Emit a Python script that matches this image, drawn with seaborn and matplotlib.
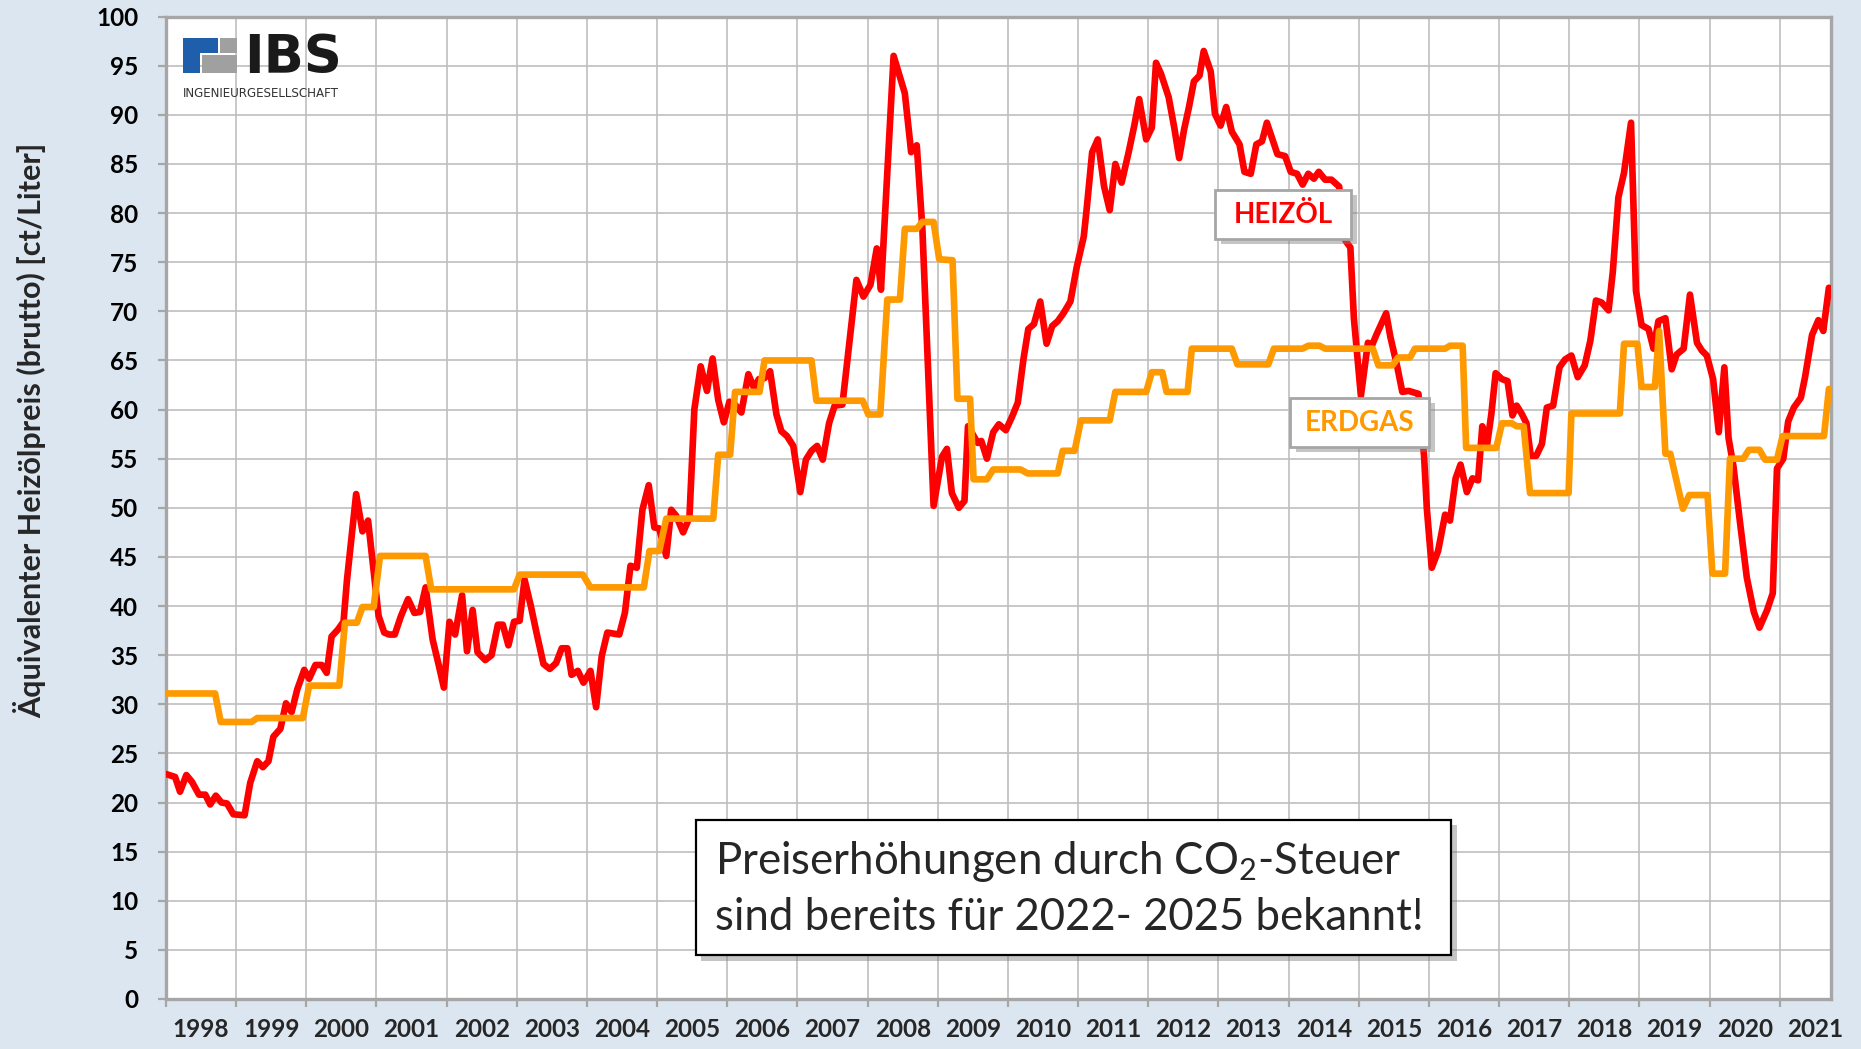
import matplotlib
matplotlib.use('Agg')
import matplotlib.pyplot as plt
import matplotlib.patheffects as pe
from matplotlib.patches import Rectangle
import seaborn as sns

# ------------------------
# Data (decimal year / ct per litre)
# ------------------------

heizoel_jahr = [
    1998.00, 1998.13, 1998.20, 1998.29, 1998.37, 1998.47, 1998.56, 1998.63, 1998.71, 1998.79,
    1998.87, 1998.96, 1999.12, 1999.20, 1999.30, 1999.38, 1999.46, 1999.53, 1999.63, 1999.71,
    1999.79, 1999.87, 1999.97, 2000.04, 2000.13, 2000.22, 2000.29, 2000.36, 2000.45, 2000.53,
    2000.58, 2000.71, 2000.80, 2000.88, 2001.03, 2001.11, 2001.18, 2001.26, 2001.35, 2001.45,
    2001.54, 2001.62, 2001.70, 2001.80, 2001.89, 2001.96, 2002.04, 2002.12, 2002.22, 2002.29,
    2002.37, 2002.44, 2002.55, 2002.64, 2002.73, 2002.80, 2002.88, 2002.96, 2003.04, 2003.11,
    2003.20, 2003.28, 2003.38, 2003.47, 2003.56, 2003.64, 2003.72, 2003.78, 2003.87, 2003.95,
    2004.05, 2004.13, 2004.21, 2004.29, 2004.46, 2004.54, 2004.62, 2004.71, 2004.79, 2004.88,
    2004.96, 2005.03, 2005.13, 2005.20, 2005.27, 2005.37, 2005.46, 2005.53, 2005.62, 2005.71,
    2005.79, 2005.87, 2005.95, 2006.03, 2006.11, 2006.20, 2006.30, 2006.38, 2006.45, 2006.53,
    2006.61, 2006.70, 2006.77, 2006.85, 2006.94, 2007.04, 2007.12, 2007.20, 2007.28, 2007.36,
    2007.45, 2007.53, 2007.64, 2007.76, 2007.84, 2007.94, 2008.04, 2008.13, 2008.19, 2008.37,
    2008.53, 2008.62, 2008.70, 2008.78, 2008.94, 2009.06, 2009.13, 2009.20, 2009.30, 2009.38,
    2009.43, 2009.57, 2009.62, 2009.70, 2009.79, 2009.87, 2009.97, 2010.06, 2010.14, 2010.22,
    2010.29, 2010.37, 2010.46, 2010.55, 2010.63, 2010.71, 2010.79, 2010.89, 2010.98, 2011.08,
    2011.12, 2011.20, 2011.28, 2011.37, 2011.45, 2011.53, 2011.62, 2011.72, 2011.80, 2011.87,
    2011.97, 2012.05, 2012.11, 2012.18, 2012.29, 2012.37, 2012.44, 2012.51, 2012.58, 2012.65,
    2012.73, 2012.79, 2012.89, 2012.95, 2013.03, 2013.11, 2013.19, 2013.30, 2013.37, 2013.46,
    2013.54, 2013.62, 2013.69, 2013.76, 2013.84, 2013.95, 2014.03, 2014.12, 2014.20, 2014.28,
    2014.36, 2014.43, 2014.52, 2014.61, 2014.72, 2014.81, 2014.88, 2014.93, 2015.03, 2015.13,
    2015.18, 2015.25, 2015.39, 2015.45, 2015.55, 2015.62, 2015.71, 2015.85, 2015.93, 2015.97,
    2016.04, 2016.13, 2016.23, 2016.30, 2016.38, 2016.45, 2016.54, 2016.62, 2016.70, 2016.76,
    2016.83, 2016.89, 2016.95, 2017.04, 2017.12, 2017.19, 2017.25, 2017.32, 2017.39, 2017.45,
    2017.53, 2017.61, 2017.68, 2017.77, 2017.86, 2017.94, 2018.03, 2018.12, 2018.22, 2018.30,
    2018.38, 2018.46, 2018.56, 2018.62, 2018.70, 2018.78, 2018.88, 2018.95, 2019.03, 2019.13,
    2019.20, 2019.27, 2019.37, 2019.46, 2019.53, 2019.63, 2019.72, 2019.82, 2019.89, 2019.96,
    2020.05, 2020.13, 2020.21, 2020.27, 2020.34, 2020.43, 2020.53, 2020.63, 2020.71, 2020.82,
    2020.90, 2020.96, 2021.05, 2021.12, 2021.20, 2021.30, 2021.36, 2021.46, 2021.55, 2021.62,
    2021.70,
]
heizoel_preis = [
    22.9, 22.6, 21.1, 22.8, 22.1, 20.8, 20.8, 19.8, 20.7, 20.0,
    19.9, 18.8, 18.7, 22.0, 24.2, 23.6, 24.2, 26.7, 27.5, 30.1,
    29.2, 31.5, 33.5, 32.6, 34.0, 34.0, 33.2, 36.9, 37.6, 38.4,
    42.7, 51.4, 47.6, 48.7, 39.0, 37.3, 37.1, 37.1, 39.0, 40.7,
    39.3, 39.4, 41.9, 36.6, 33.9, 31.7, 38.4, 37.1, 41.1, 35.4,
    39.6, 35.3, 34.5, 35.0, 38.1, 38.1, 36.0, 38.4, 38.5, 42.7,
    40.0, 37.3, 34.1, 33.6, 34.2, 35.7, 35.7, 33.0, 33.4, 32.2,
    33.4, 29.7, 34.9, 37.3, 37.1, 39.3, 44.1, 43.9, 49.8, 52.3,
    48.0, 47.9, 45.1, 49.8, 49.2, 47.5, 49.0, 60.0, 64.4, 61.9,
    65.2, 61.0, 58.7, 60.8, 60.5, 59.7, 63.6, 62.2, 63.1, 63.2,
    63.9, 59.5, 57.8, 57.3, 56.3, 51.6, 54.9, 55.8, 56.3, 54.9,
    58.6, 60.4, 60.5, 68.1, 73.2, 71.5, 72.7, 76.4, 72.2, 96.0,
    92.2, 86.2, 86.9, 78.4, 50.2, 55.2, 56.0, 51.5, 50.0, 50.7,
    58.3, 56.6, 56.8, 55.0, 57.7, 58.5, 57.9, 59.3, 60.7, 65.1,
    68.2, 68.7, 71.0, 66.7, 68.5, 69.0, 69.8, 71.0, 74.5, 77.6,
    80.3, 86.2, 87.5, 82.7, 80.3, 85.0, 83.1, 86.2, 88.9, 91.6,
    87.5, 88.7, 95.3, 94.2, 91.8, 88.7, 85.6, 88.5, 90.8, 93.4,
    94.0, 96.5, 94.4, 90.1, 88.9, 90.8, 88.3, 87.0, 84.2, 84.0,
    87.0, 87.3, 89.2, 87.7, 86.0, 85.8, 84.2, 84.0, 82.9, 84.0,
    83.5, 84.2, 83.4, 83.4, 82.7, 77.2, 76.5, 69.3, 61.4, 66.8,
    66.4, 67.6, 69.8, 67.4, 64.3, 61.8, 61.9, 61.6, 55.3, 49.9,
    43.9, 45.6, 49.3, 48.7, 53.0, 54.4, 51.6, 53.0, 52.8, 58.3,
    56.5, 59.6, 63.7, 63.1, 62.9, 59.4, 60.4, 59.6, 58.6, 55.3,
    55.3, 56.5, 60.2, 60.4, 64.3, 65.1, 65.5, 63.3, 64.5, 67.0,
    71.1, 70.9, 70.1, 74.0, 81.6, 84.1, 89.2, 72.1, 68.6, 68.2,
    66.2, 69.0, 69.3, 64.1, 65.6, 66.2, 71.7, 66.8, 66.0, 65.5,
    63.1, 57.7, 64.3, 57.1, 54.2, 48.7, 42.9, 39.4, 37.8, 39.6,
    41.3, 54.0, 55.0, 58.8, 60.2, 61.2, 63.3, 67.6, 69.1, 68.0,
    72.4,
]

erdgas_jahr = [
    1998.00, 1998.70, 1998.78, 1999.22, 1999.30, 1999.95, 2000.04, 2000.47, 2000.55, 2000.72,
    2000.80, 2000.96, 2001.05, 2001.70, 2001.78, 2002.96, 2003.04, 2003.94, 2004.05, 2004.81,
    2004.89, 2005.03, 2005.13, 2005.80, 2005.87, 2006.04, 2006.11, 2006.46, 2006.53, 2007.20,
    2007.27, 2007.93, 2008.01, 2008.18, 2008.28, 2008.46, 2008.53, 2008.70, 2008.78, 2008.94,
    2009.02, 2009.21, 2009.28, 2009.46, 2009.51, 2009.70, 2009.79, 2010.18, 2010.28, 2010.71,
    2010.78, 2010.95, 2011.04, 2011.45, 2011.53, 2011.97, 2012.05, 2012.20, 2012.26, 2012.56,
    2012.62, 2013.19, 2013.27, 2013.71, 2013.79, 2014.20, 2014.28, 2014.44, 2014.52, 2015.20,
    2015.28, 2015.48, 2015.56, 2015.73, 2015.80, 2016.23, 2016.30, 2016.48, 2016.53, 2016.96,
    2017.04, 2017.18, 2017.25, 2017.35, 2017.44, 2017.99, 2018.03, 2018.72, 2018.78, 2018.97,
    2019.03, 2019.22, 2019.28, 2019.37, 2019.44, 2019.62, 2019.71, 2019.97, 2020.04, 2020.22,
    2020.29, 2020.48, 2020.56, 2020.71, 2020.79, 2020.96, 2021.04, 2021.63, 2021.70,
]
erdgas_preis = [
    31.1, 31.1, 28.2, 28.2, 28.6, 28.6, 31.9, 31.9, 38.3, 38.3,
    39.9, 39.9, 45.1, 45.1, 41.7, 41.7, 43.2, 43.2, 41.9, 41.9,
    45.6, 45.6, 48.9, 48.9, 55.4, 55.4, 61.8, 61.8, 65.0, 65.0,
    60.9, 60.9, 59.5, 59.5, 71.2, 71.2, 78.4, 78.4, 79.1, 79.1,
    75.3, 75.2, 61.1, 61.1, 52.9, 52.9, 53.9, 53.9, 53.5, 53.5,
    55.8, 55.8, 58.9, 58.9, 61.8, 61.8, 63.8, 63.8, 61.8, 61.8,
    66.2, 66.2, 64.6, 64.6, 66.2, 66.2, 66.5, 66.5, 66.2, 66.2,
    64.5, 64.5, 65.3, 65.3, 66.2, 66.2, 66.5, 66.5, 56.1, 56.1,
    58.6, 58.6, 58.3, 58.3, 51.5, 51.5, 59.6, 59.6, 66.7, 66.7,
    62.3, 62.3, 68.0, 55.5, 55.5, 49.9, 51.3, 51.3, 43.3, 43.3,
    55.0, 55.0, 55.9, 55.9, 54.9, 54.9, 57.3, 57.3, 62.1,
]

jahre = list(range(1998, 2022))
y_ticks = list(range(0, 101, 5))

# ------------------------
# Style
# ------------------------

BG = '#DCE6F1'
GRID = '#BFBFBF'
SPINE = '#A6A6A6'
ROT = '#FF0000'
ORANGE = '#FF9900'

sns.set_theme(style='white')
plt.rcParams['font.family'] = ['Lato', 'DejaVu Sans']
plt.rcParams['mathtext.fontset'] = 'custom'
plt.rcParams['mathtext.rm'] = 'Lato'
plt.rcParams['mathtext.it'] = 'Lato'
plt.rcParams['mathtext.bf'] = 'Lato:bold'

W, H = 1861, 1049
fig = plt.figure(figsize=(W / 100, H / 100), dpi=100, facecolor=BG)
ax = fig.add_axes([166 / W, 1 - 999 / H, (1831 - 166) / W, (999 - 16.6) / H])
ax.set_facecolor('white')

# ------------------------
# Lines
# ------------------------

sns.lineplot(x=heizoel_jahr, y=heizoel_preis, ax=ax, color=ROT, lw=4.8,
             sort=False, estimator=None, zorder=3, solid_joinstyle='round')
sns.lineplot(x=erdgas_jahr, y=erdgas_preis, ax=ax, color=ORANGE, lw=4.8,
             sort=False, estimator=None, zorder=4, solid_joinstyle='round')

# ------------------------
# Axes
# ------------------------

ax.set_xlim(1998, 2021.73)
ax.set_ylim(0, 100)
ax.set_xticks(jahre)
ax.set_xticklabels([])
ax.set_xticks([j + 0.5 for j in jahre], minor=True)
ax.set_xticklabels([str(j) for j in jahre], minor=True)
ax.set_yticks(y_ticks)
ax.set_yticklabels([str(v) for v in y_ticks])

ax.grid(True, which='major', color=GRID, lw=1.2, zorder=0)
ax.set_axisbelow(True)
for s in ax.spines.values():
    s.set_color(SPINE)
    s.set_linewidth(2.4)
    s.set_visible(True)

ax.tick_params(axis='both', which='major', direction='out', length=6, width=1.6,
               color=SPINE, labelsize=17.5, labelcolor='black', bottom=True, left=True)
ax.tick_params(axis='y', which='major', pad=14)
ax.tick_params(axis='x', which='minor', length=0, pad=14, labelsize=17.5, bottom=True)
for lab in ax.get_xticklabels(minor=True) + ax.get_yticklabels():
    lab.set_fontweight('bold')

ax.set_xlabel('')
ax.set_ylabel('')
fig.text(30 / W, 1 - 430 / H, 'Äquivalenter Heizölpreis (brutto) [ct/Liter]',
         rotation=90, ha='center', va='center', fontsize=22, fontweight='bold')

# ------------------------
# Label boxes
# ------------------------

shadow = [pe.SimplePatchShadow(offset=(4, -4), shadow_rgbFace='#7F7F7F', alpha=0.45), pe.Normal()]


def label_box(x0, x1, y0, y1, edge, lw):
    r = Rectangle((x0, y0), x1 - x0, y1 - y0, fc='white', ec=edge, lw=lw, zorder=6)
    r.set_path_effects(shadow)
    ax.add_patch(r)


label_box(2012.95, 2014.89, 77.39, 82.38, SPINE, 2)
ax.text(2013.92, 79.85, 'HEIZÖL', ha='center', va='center', color=ROT,
        fontsize=20, fontweight='bold', zorder=7)

label_box(2014.02, 2016.00, 56.2, 61.2, SPINE, 2)
ax.text(2015.01, 58.65, 'ERDGAS', ha='center', va='center', color=ORANGE,
        fontsize=20, fontweight='bold', zorder=7)

label_box(2005.55, 2016.32, 4.43, 18.23, 'black', 1.6)
ax.text(2005.82, 14.0, 'Preiserhöhungen durch CO$_2$-Steuer', ha='left', va='center',
        fontsize=31.5, zorder=7)
ax.text(2005.82, 8.3, 'sind bereits für 2022- 2025 bekannt!', ha='left', va='center',
        fontsize=31.5, zorder=7)

# ------------------------
# Logo
# ------------------------


def fig_rect(x0, y0, x1, y1, color):
    fig.add_artist(Rectangle((x0 / W, 1 - y1 / H), (x1 - x0) / W, (y1 - y0) / H,
                             transform=fig.transFigure, fc=color, ec='none', zorder=5))


fig_rect(183, 38, 218, 53, '#1F5EAB')
fig_rect(183, 53, 200, 73, '#1F5EAB')
fig_rect(220, 38, 237, 53, '#A0A0A0')
fig_rect(202, 55, 237, 73, '#A0A0A0')
fig.text(244 / W, 1 - 73 / H, 'IBS', ha='left', va='baseline', fontsize=38,
         fontweight='heavy', family='DejaVu Sans', color='#1A1A1A', zorder=5)
fig.text(183 / W, 1 - 97 / H, 'INGENIEURGESELLSCHAFT', ha='left', va='baseline',
         fontsize=8.6, family='DejaVu Sans', color='#333333', zorder=5)

fig.savefig('out.png', dpi=100, facecolor=BG)
